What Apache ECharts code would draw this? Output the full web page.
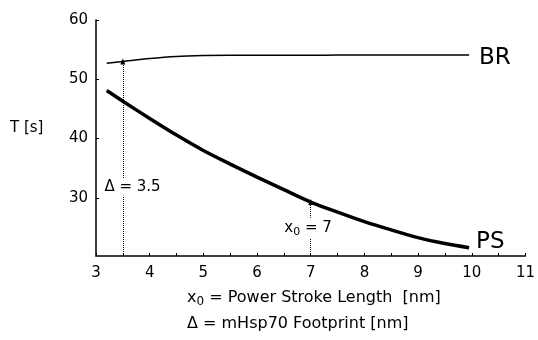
<!DOCTYPE html>
<html>
<head>
<meta charset="utf-8">
<script src="https://cdn.jsdelivr.net/npm/echarts@6/dist/echarts.min.js"></script>
<style>
  html, body { margin: 0; padding: 0; background: #fff; }
  #chart { width: 538px; height: 340px; }
</style>
</head>
<body>
<div id="chart"></div>
<script>
// power stroke length x0 [nm]
const strokeLen = [3.2, 3.5, 4, 4.5, 5, 5.5, 6, 6.5, 7, 7.5, 8, 8.5, 9, 9.5, 9.95];
// translocation time T [s]
const psTime = [48.1, 46.3, 43.4, 40.6, 38.0, 35.7, 33.5, 31.4, 29.3, 27.6, 26.0, 24.6, 23.3, 22.3, 21.6];
const brTime = [52.7, 53.0, 53.5, 53.85, 54.0, 54.05, 54.05, 54.05, 54.05, 54.1, 54.1, 54.1, 54.1, 54.1, 54.1];
const yTicks = [30, 40, 50, 60];
const footprint = 3.5;   // Δ
const strokeMark = 7;    // x0

const yMin = 20.2;
const font = 'DejaVu Sans, sans-serif';
const valAt = (arr, x) => arr[strokeLen.indexOf(x)];
const pairs = (ys) => strokeLen.map((x, i) => [x, ys[i]]);

const dotted = { type: 'dotted', color: '#000', width: 1 };
const subRich = (size) => ({
    a: { fontSize: size, fontFamily: font, color: '#000', backgroundColor: '#fff', textBorderWidth: 0 },
    s: { fontSize: size - 4, fontFamily: font, color: '#000', padding: [8, 0, 0, 0], backgroundColor: '#fff', textBorderWidth: 0 }
});

const chart = echarts.init(document.getElementById('chart'));
chart.setOption({
    animation: false,
    backgroundColor: '#fff',
    textStyle: { fontFamily: font, color: '#000' },
    grid: { left: 96, right: 9, top: 20, bottom: 84 },
    xAxis: {
        type: 'value',
        min: 3, max: 11, interval: 1,
        axisLine: { lineStyle: { color: '#000', width: 1.5 } },
        axisTick: { inside: true, length: 3, lineStyle: { color: '#000' } },
        minorTick: { show: true, splitNumber: 2, length: 3, lineStyle: { color: '#000' } },
        splitLine: { show: false },
        axisLabel: { color: '#000', fontSize: 15, margin: 10, fontFamily: font }
    },
    yAxis: {
        type: 'value',
        min: yMin, max: 60,
        axisLine: { show: true, lineStyle: { color: '#000', width: 1.5 } },
        axisTick: { show: true, inside: true, length: 3, customValues: yTicks, lineStyle: { color: '#000' } },
        splitLine: { show: false },
        axisLabel: { color: '#000', fontSize: 15, margin: 8, customValues: yTicks, fontFamily: font }
    },
    graphic: [
        { type: 'text', left: 10, top: 121, style: { text: 'T [s]', font: '15px ' + font, fill: '#000' } },
        { type: 'text', left: 187, top: 288, style: {
            text: '{a|x}{s|0}{a| = Power Stroke Length  [nm]}', rich: subRich(16), fill: '#000' } },
        { type: 'text', left: 187, top: 316, style: { text: 'Δ = mHsp70 Footprint [nm]', font: '16px ' + font, fill: '#000' } }
    ],
    series: [
        {
            name: 'BR', type: 'line', data: pairs(brTime),
            smooth: 0.3, showSymbol: false,
            lineStyle: { color: '#000', width: 1.5 },
            endLabel: { show: true, formatter: 'BR', fontSize: 23, color: '#000', distance: 10, offset: [0, 3], fontFamily: font },
            markLine: {
                silent: true, symbol: ['none', 'triangle'], symbolSize: [5, 6],
                label: { show: false }, lineStyle: dotted,
                data: [[{ coord: [footprint, yMin] }, { coord: [footprint, valAt(brTime, footprint)] }]]
            }
        },
        {
            name: 'PS', type: 'line', data: pairs(psTime),
            smooth: 0.3, showSymbol: false,
            lineStyle: { color: '#000', width: 3.5 },
            endLabel: { show: true, formatter: 'PS', fontSize: 23, color: '#000', distance: 7, offset: [0, -6], fontFamily: font },
            markLine: {
                silent: true, symbol: ['none', 'triangle'], symbolSize: [5, 6],
                label: { show: false }, lineStyle: dotted,
                data: [[{ coord: [strokeMark, yMin] }, { coord: [strokeMark, valAt(psTime, strokeMark)] }]]
            }
        },
        {
            type: 'scatter', symbolSize: 0, z: 10, silent: true,
            itemStyle: { color: '#000', opacity: 1 },
            data: [[3.68, 31.8], [6.95, 24.9]],
            label: {
                show: true, position: 'inside', backgroundColor: '#fff', padding: [1, 1],
                fontSize: 15, color: '#000', fontFamily: font, textBorderWidth: 0, opacity: 1,
                formatter: (p) => p.dataIndex === 0 ? 'Δ = ' + footprint : '{a|x}{s|0}{a| = ' + strokeMark + '}',
                rich: subRich(15)
            }
        }
    ]
});
</script>
</body>
</html>
